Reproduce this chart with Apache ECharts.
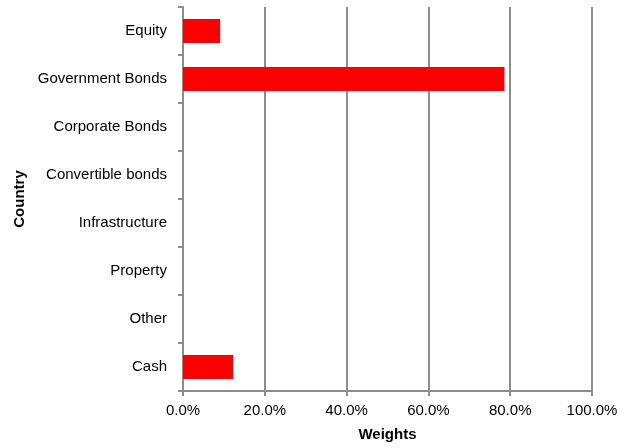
<!DOCTYPE html>
<html>
<head>
<meta charset="utf-8">
<script src="https://cdn.jsdelivr.net/npm/echarts@6/dist/echarts.min.js"></script>
<style>html,body{margin:0;padding:0;background:#fff;}#c{width:634px;height:448px;}</style>
</head>
<body>
<div id="c"></div>
<script>
const categories = ["Equity", "Government Bonds", "Corporate Bonds", "Convertible bonds", "Infrastructure", "Property", "Other", "Cash"];
const weights = [9.1, 78.6, 0, 0, 0, 0, 0, 12.3];
const xTicks = [0, 20, 40, 60, 80, 100];

const chart = echarts.init(document.getElementById('c'), null, {renderer: 'canvas'});
const font = 'Liberation Sans, Arial, sans-serif';
chart.setOption({
  animation: false,
  grid: {left: 183, right: 42, top: 7, bottom: 57, containLabel: false},
  xAxis: {
    type: 'value', min: xTicks[0], max: xTicks[xTicks.length - 1], interval: 20,
    name: 'Weights', nameLocation: 'middle', nameGap: 36,
    nameTextStyle: {fontFamily: font, fontSize: 15, fontWeight: 'bold', color: '#000'},
    axisLine: {show: true, lineStyle: {color: '#8c8c8c', width: 2}},
    axisTick: {show: true, inside: false, length: 5, lineStyle: {color: '#8c8c8c', width: 2}},
    axisLabel: {fontFamily: font, fontSize: 15, color: '#000', margin: 12,
      formatter: v => v.toFixed(1) + '%'},
    splitLine: {show: true, lineStyle: {color: '#8c8c8c', width: 2}}
  },
  yAxis: {
    type: 'category', data: categories, inverse: true,
    name: 'Country', nameLocation: 'middle', nameGap: 154, nameRotate: 90,
    nameTextStyle: {fontFamily: font, fontSize: 15, fontWeight: 'bold', color: '#000'},
    axisLine: {show: true, lineStyle: {color: '#8c8c8c', width: 2}},
    axisTick: {show: true, inside: false, length: 5, alignWithLabel: false, lineStyle: {color: '#8c8c8c', width: 2}},
    axisLabel: {fontFamily: font, fontSize: 15, color: '#000', margin: 16},
    splitLine: {show: false}
  },
  series: [{
    type: 'bar', data: weights, barWidth: '50%',
    itemStyle: {color: '#ff0000'}
  }]
});
</script>
</body>
</html>
